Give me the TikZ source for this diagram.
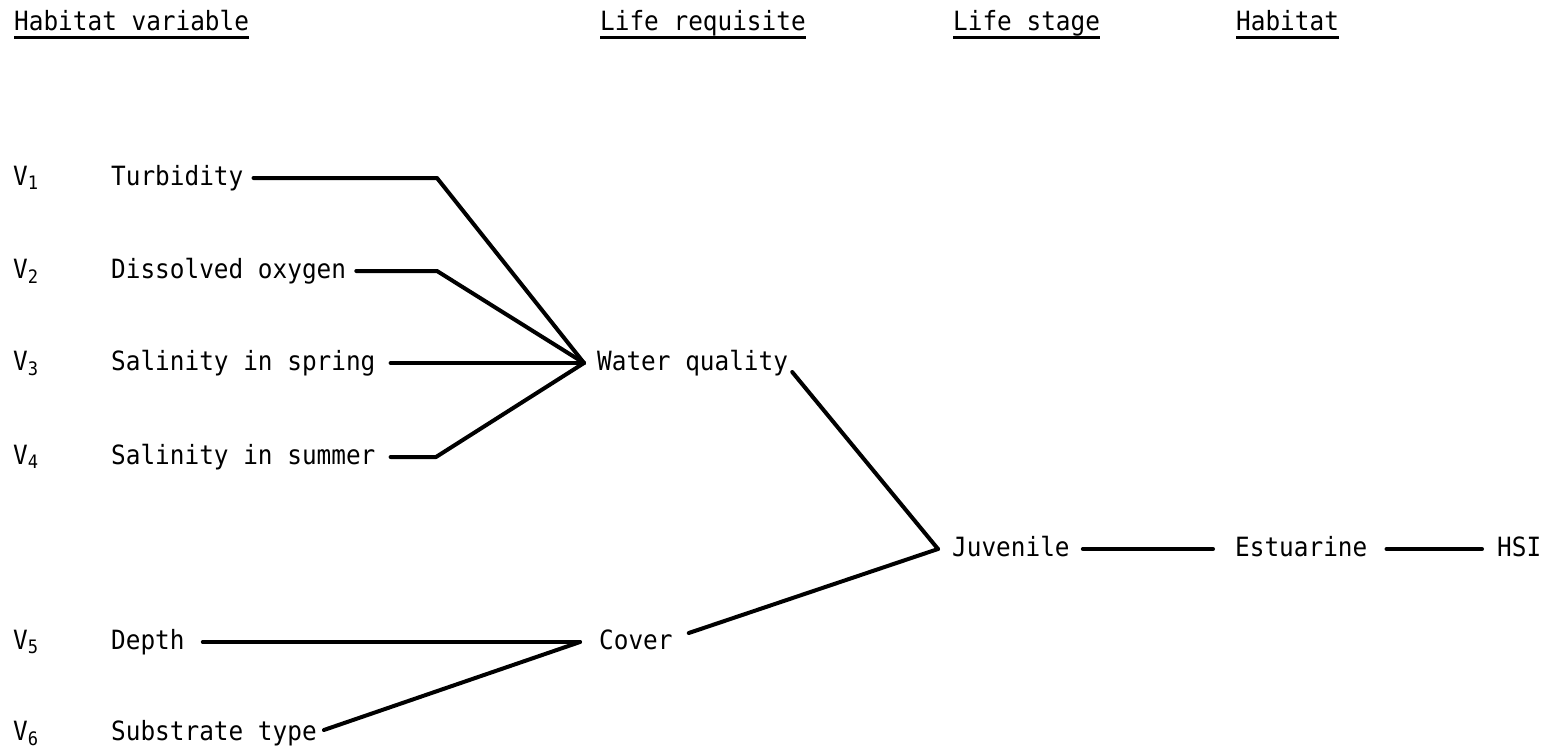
\documentclass[tikz,border=0pt]{standalone}
\usepackage{fontspec}
\setmonofont[FakeStretch=0.92]{DejaVu Sans Mono}

\begin{document}
\begin{tikzpicture}[x=1pt,y=-1pt,
    lbl/.style={font=\ttfamily\fontsize{26.5}{30}\selectfont, inner sep=0pt, anchor=base west},
    link/.style={line width=4pt, line cap=round, line join=round},
    uline/.style={line width=3pt}]
    \useasboundingbox (0,0) rectangle (1554,750);

    % Column headings
    \node[lbl] (hvar) at (14,30) {Habitat variable};
    \node[lbl] (lreq) at (600,30) {Life requisite};
    \node[lbl] (lstage) at (953,30) {Life stage};
    \node[lbl] (hab) at (1236,30) {Habitat};
    \draw[uline] ([yshift=-7pt]hvar.base west) -- ([yshift=-7pt]hvar.base east); % underline
    \draw[uline] ([yshift=-7pt]lreq.base west) -- ([yshift=-7pt]lreq.base east); % underline
    \draw[uline] ([yshift=-7pt]lstage.base west) -- ([yshift=-7pt]lstage.base east); % underline
    \draw[uline] ([yshift=-7pt]hab.base west) -- ([yshift=-7pt]hab.base east); % underline

    % Habitat variables (baseline 7pt below the row line)
    \node[lbl] (n1) at (13,185) {V\textsubscript{1}};
    \node[lbl] (n2) at (13,278) {V\textsubscript{2}};
    \node[lbl] (n3) at (13,370) {V\textsubscript{3}};
    \node[lbl] (n4) at (13,464) {V\textsubscript{4}};
    \node[lbl] (n5) at (13,649) {V\textsubscript{5}};
    \node[lbl] (n6) at (13,740) {V\textsubscript{6}};
    \node[lbl] (turb) at (111,185) {Turbidity};
    \node[lbl] (oxy) at (111,278) {Dissolved oxygen};
    \node[lbl] (salsp) at (111,370) {Salinity in spring};
    \node[lbl] (salsu) at (111,464) {Salinity in summer};
    \node[lbl] (depth) at (111,649) {Depth};
    \node[lbl] (subst) at (111,740) {Substrate type};

    % Life requisites, life stage, habitat
    \node[lbl] (wq) at (597,370) {Water quality};
    \node[lbl] (cov) at (599,649) {Cover};
    \node[lbl] (juv) at (952,556) {Juvenile};
    \node[lbl] (est) at (1235,556) {Estuarine};
    \node[lbl] (hsi) at (1497,556) {HSI};

    % Bends and junctions
    \coordinate (b1) at (437,178);
    \coordinate (b2) at (437,271);
    \coordinate (b4) at (436,457);
    \coordinate (wqhub) at (584,363);
    \coordinate (covhub) at (580,642);
    \coordinate (juvhub) at (938,549);

    % Connectors
    \draw[link] ([xshift=10pt,yshift=7pt]turb.base east) -- (b1) -- (wqhub);
    \draw[link] ([xshift=10pt,yshift=7pt]oxy.base east) -- (b2) -- (wqhub);
    \draw[link] ([xshift=15pt,yshift=7pt]salsp.base east) -- (wqhub);
    \draw[link] ([xshift=15pt,yshift=7pt]salsu.base east) -- (b4) -- (wqhub);
    \draw[link] ([xshift=18pt,yshift=7pt]depth.base east) -- (covhub);
    \draw[link] ([xshift=7pt,yshift=10pt]subst.base east) -- (covhub);
    \draw[link] ([xshift=4pt,yshift=-2pt]wq.base east) -- (juvhub);
    \draw[link] ([xshift=16pt,yshift=16pt]cov.base east) -- (juvhub);
    \draw[link] ([xshift=13pt,yshift=7pt]juv.base east) -- ([xshift=-22pt,yshift=7pt]est.base west);
    \draw[link] ([xshift=19pt,yshift=7pt]est.base east) -- ([xshift=-15pt,yshift=7pt]hsi.base west);
\end{tikzpicture}
\end{document}
